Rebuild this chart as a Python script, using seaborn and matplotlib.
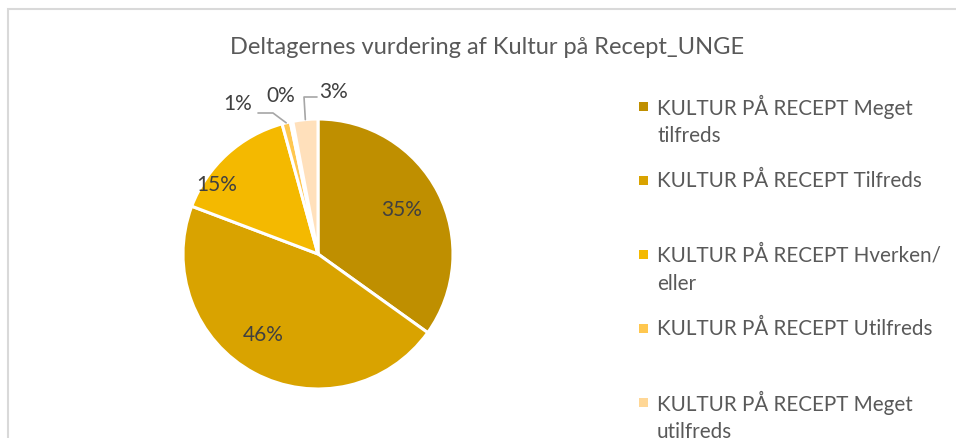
"""
Cirkeldiagram: Deltagernes vurdering af Kultur på Recept_UNGE.
"""

import numpy as np
import matplotlib
matplotlib.use("Agg")
import matplotlib.pyplot as plt
from matplotlib.patches import Rectangle
import seaborn as sns

# Data
categories = [
    "KULTUR PÅ RECEPT Meget tilfreds",
    "KULTUR PÅ RECEPT Tilfreds",
    "KULTUR PÅ RECEPT Hverken/eller",
    "KULTUR PÅ RECEPT Utilfreds",
    "KULTUR PÅ RECEPT Meget utilfreds",
    "KULTUR PÅ RECEPT Ved ikke",
]
legend_lines = [
    ["KULTUR PÅ RECEPT Meget", "tilfreds"],
    ["KULTUR PÅ RECEPT Tilfreds"],
    ["KULTUR PÅ RECEPT Hverken/", "eller"],
    ["KULTUR PÅ RECEPT Utilfreds"],
    ["KULTUR PÅ RECEPT Meget", "utilfreds"],
    ["KULTUR PÅ RECEPT Ved ikke"],
]
percent = [35, 46, 15, 1, 0.3, 3]
colors = ["#BF8F00", "#D9A300", "#F4B900", "#FFC74F", "#FFD796", "#FFE0BB"]

title = "Deltagernes vurdering af Kultur på Recept_UNGE"

sns.set_theme(style="white")
plt.rcParams["font.family"] = ["Lato", "DejaVu Sans"]

W, H, DPI = 956, 439, 100
fig = plt.figure(figsize=(W / DPI, H / DPI), dpi=DPI)
fig.patch.set_facecolor("white")

# Ramme om diagramområdet (skåret af til højre og nederst)
fig.add_artist(Rectangle((7.5 / W, -0.2), 1.2, 1.2 - 9.5 / H,
                         transform=fig.transFigure, fill=False,
                         edgecolor="#D9D9D9", linewidth=1.5))

# Cirkel: centrum (318, 255) px, radius 135 px
cx, cy, r = 318, 255, 135
ax = fig.add_axes([(cx - r) / W, (H - cy - r) / H, 2 * r / W, 2 * r / H])
palette = sns.color_palette(colors)
wedges, _ = ax.pie(percent, colors=palette, startangle=90, counterclock=False,
                   radius=1, wedgeprops=dict(edgecolor="white", linewidth=2.2))
ax.set_xlim(-1, 1)
ax.set_ylim(-1, 1)
ax.set_aspect("equal")
ax.axis("off")
for w in wedges:
    w.set_clip_on(False)

total = sum(percent)
labels = [f"{100 * v / total:.0f}%" for v in percent]

# Etiketter inde i cirklen: (radius, vinkelforskydning)
inside = {0: (0.70, 1), 1: (0.72, -6), 2: (0.91, 13)}
for i, (rad, shift) in inside.items():
    a = np.deg2rad((wedges[i].theta1 + wedges[i].theta2) / 2 + shift)
    ax.text(rad * np.cos(a), rad * np.sin(a), labels[i], ha="center",
            va="center", fontsize=15, color="#404040")


def px(x, y):
    return (x - cx) / r, (cy - y) / r


# Etiketter udenfor med forbindelseslinjer
outside = {
    3: ((238, 104), [(258, 114), (273, 114)]),
    4: ((281, 96), None),
    5: ((334, 92), [(317, 98), (304, 98)]),
}
for i, (tpos, leader) in outside.items():
    tx, ty = px(*tpos)
    ax.text(tx, ty, labels[i], ha="center", va="center", fontsize=15,
            color="#404040", clip_on=False)
    if leader:
        a = np.deg2rad((wedges[i].theta1 + wedges[i].theta2) / 2)
        pts = [px(*p) for p in leader] + [(np.cos(a), np.sin(a))]
        xs, ys = zip(*pts)
        ax.plot(xs, ys, color="#A6A6A6", linewidth=1.2, clip_on=False)

# Titel
fig.text(487 / W, 1 - 47 / H, title, ha="center", va="center",
         fontsize=17, color="#595959")

# Forklaring (topjusterede felter med fast afstand)
y0, step, line_h = 107, 74, 29.5
for i, lines in enumerate(legend_lines):
    y = y0 + i * step
    fig.add_artist(Rectangle(((643 - 4.5) / W, 1 - (y + 4.5) / H), 9 / W, 9 / H,
                             transform=fig.transFigure, facecolor=colors[i],
                             edgecolor="none"))
    for j, line in enumerate(lines):
        fig.text(657 / W, 1 - (y + j * line_h) / H, line, ha="left",
                 va="center", fontsize=14.9, color="#595959")

fig.savefig("out.png", dpi=DPI)
